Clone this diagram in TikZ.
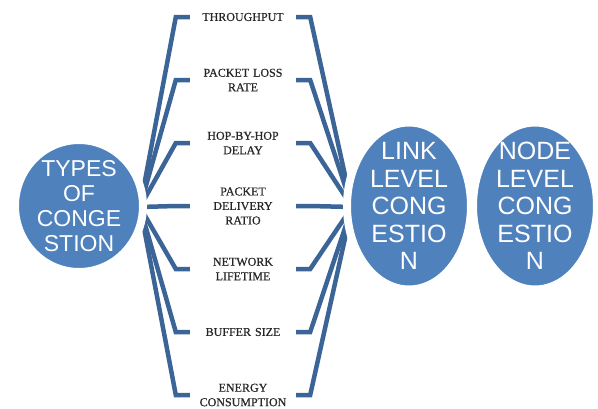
\documentclass[tikz,border=0pt]{standalone}
\usepackage{fontspec}
\setmainfont{Liberation Serif}
\newfontfamily\bubblefont{Liberation Sans}
\newfontfamily\metricfont[FakeBold=0.6]{Liberation Serif}
\usetikzlibrary{shapes.geometric,shadows}
\definecolor{bubbleblue}{HTML}{4F81BD}
\definecolor{linkblue}{HTML}{3C6597}
\tikzset{
  bubble/.style={ellipse, draw=white, line width=8pt, fill=bubbleblue, inner sep=0pt,
    drop shadow={shadow xshift=0pt, shadow yshift=-3pt, opacity=0.18, fill=black}},
  bubbletext/.style={text=white, align=center, inner sep=0pt, font=\bubblefont},
  metric/.style={text width=106pt, align=center, inner sep=0pt,
    font=\metricfont\fontsize{12}{14.5}\selectfont, text=black!85},
  conn/.style={draw=linkblue, line width=4.5pt, line join=miter}
}
\begin{document}
\begin{tikzpicture}[x=1pt,y=-1pt]
\useasboundingbox (0,0) rectangle (598,408);

% hubs where the fans meet
\coordinate (hubL) at (140,207);
\coordinate (hubR) at (352,207);

% metric labels
\node[metric] (m1) at (243,17)  {THROUGHPUT};
\node[metric] (m2) at (243,80)  {PACKET LOSS\\RATE};
\node[metric] (m3) at (243,143) {HOP-BY-HOP\\DELAY};
\node[metric] (m4) at (243,206) {PACKET\\DELIVERY\\RATIO};
\node[metric] (m5) at (243,269) {NETWORK\\LIFETIME};
\node[metric] (m6) at (243,332) {BUFFER SIZE};
\node[metric] (m7) at (243,395) {ENERGY\\CONSUMPTION};

% bracket connectors on both sides
\foreach \m in {m1,m2,m3,m4,m5,m6,m7}{
  \draw[conn] (\m.west) -- ++(-14,0) -- (hubL);
  \draw[conn] (\m.east) -- ++(14,0) -- (hubR);
}

% bubbles
\node[bubble, minimum width=128pt, minimum height=132pt] (types) at (79,206) {};
\node[bubbletext, font=\bubblefont\fontsize{23}{25}\selectfont] (typesT) at (types.center) {TYPES\\OF\\CONGE\\STION};

\node[bubble, minimum width=124pt, minimum height=167pt] (link) at (409,206) {};
\node[bubbletext, font=\bubblefont\fontsize{25}{27.5}\selectfont] (linkT) at (link.center) {LINK\\LEVEL\\CONG\\ESTIO\\N};

\node[bubble, minimum width=124pt, minimum height=167pt] (nodelvl) at (535,206) {};
\node[bubbletext, font=\bubblefont\fontsize{25}{27.5}\selectfont] (nodeT) at (nodelvl.center) {NODE\\LEVEL\\CONG\\ESTIO\\N};
\end{tikzpicture}
\end{document}
